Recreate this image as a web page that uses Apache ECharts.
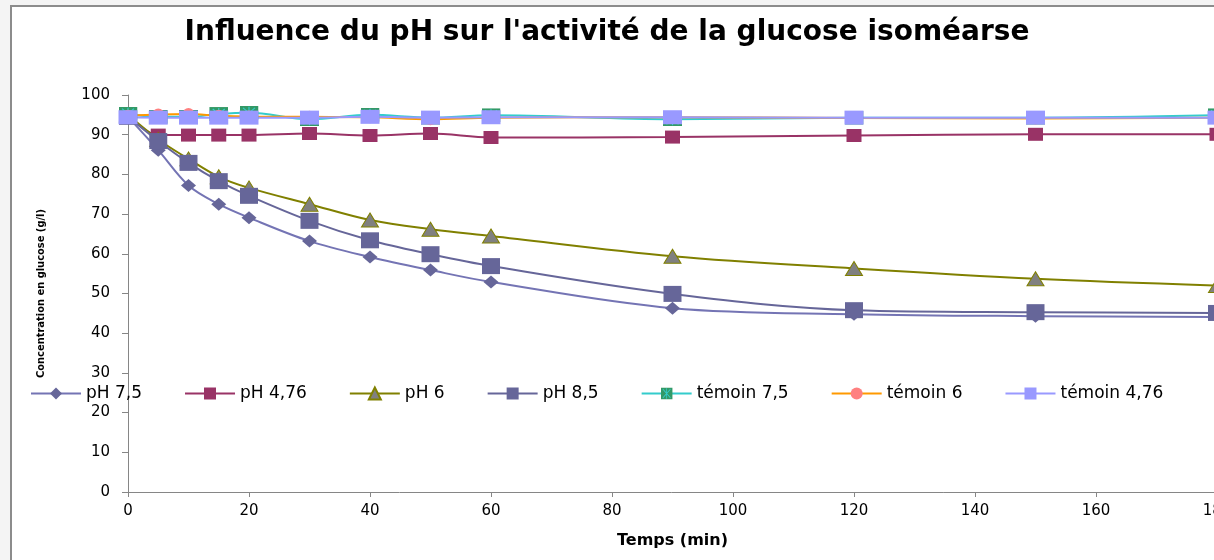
<!DOCTYPE html>
<html>
<head>
<meta charset="utf-8">
<script src="https://cdn.jsdelivr.net/npm/echarts@6/dist/echarts.min.js"></script>
<style>
  html, body { margin: 0; padding: 0; background: #f4f4f4; }
  #chart { width: 1214px; height: 560px; }
</style>
</head>
<body>
<div id="chart"></div>
<script>
// Sampling times (min)
const times = [0, 5, 10, 15, 20, 30, 40, 50, 60, 90, 120, 150, 180];

// Glucose concentration (g/l) for each condition
const ph75   = [94.5, 86.1, 77.2, 72.5, 69.1, 63.2, 59.2, 55.9, 52.9, 46.3, 44.8, 44.3, 44.1];
const ph476  = [95.0, 89.9, 89.9, 89.9, 89.9, 90.3, 89.8, 90.3, 89.3, 89.4, 89.8, 90.1, 90.1];
const ph6    = [95.0, 88.8, 83.9, 79.4, 76.6, 72.5, 68.5, 66.2, 64.5, 59.4, 56.3, 53.7, 52.0];
const ph85   = [94.5, 88.4, 82.9, 78.3, 74.6, 68.3, 63.4, 59.9, 56.9, 49.9, 45.8, 45.3, 45.1];
const tem75  = [95.3, 94.5, 94.5, 95.2, 95.5, 93.9, 95.0, 94.3, 94.9, 93.9, 94.3, 94.3, 94.9];
const tem6   = [94.8, 95.1, 95.2, 94.8, 94.6, 94.5, 94.4, 93.9, 94.3, 94.4, 94.2, 94.1, 94.3];
const tem476 = [94.4, 94.3, 94.3, 94.3, 94.3, 94.3, 94.5, 94.3, 94.4, 94.4, 94.3, 94.3, 94.3];

const seriesNames = ['pH 7,5', 'pH 4,76', 'pH 6', 'pH 8,5', 'témoin 7,5', 'témoin 6', 'témoin 4,76'];

const title = "Influence du pH sur l'activité de la glucose isoméarse";
const xName = 'Temps (min)';
const yName = 'Concentration en glucose (g/l)';

// green square with a cyan asterisk
const starSquare = 'image://data:image/svg+xml;utf8,' + encodeURIComponent(
  '<svg xmlns="http://www.w3.org/2000/svg" width="19" height="14" viewBox="0 0 19 14">' +
  '<rect x="0" y="0" width="19" height="14" fill="#339966"/>' +
  '<path d="M9.5 1 V13 M3.5 2 L15.5 12 M15.5 2 L3.5 12" stroke="#33CCCC" stroke-width="1.2"/>' +
  '</svg>');

function pairs(values) {
  return times.map((t, i) => [t, values[i]]);
}

function lineSeries(name, values, lineColor, symbol, size, fill, border) {
  return {
    name: name,
    type: 'line',
    data: pairs(values),
    smooth: 0.35,
    symbol: symbol,
    symbolSize: size,
    showAllSymbol: true,
    lineStyle: { color: lineColor, width: 2 },
    itemStyle: {
      color: fill,
      borderColor: border || fill,
      borderWidth: border ? 1 : 0
    },
    emphasis: { disabled: true }
  };
}

const chart = echarts.init(document.getElementById('chart'), null, { renderer: 'canvas' });

chart.setOption({
  animation: false,
  backgroundColor: '#f4f4f4',
  graphic: [{
    type: 'rect',
    z: -10,
    silent: true,
    shape: { x: 11, y: 6, width: 1300, height: 600 },
    style: { fill: '#ffffff', stroke: '#8c8c8c', lineWidth: 2 }
  }],
  title: {
    text: title,
    left: 'center',
    top: 14,
    textStyle: {
      fontFamily: 'DejaVu Sans',
      fontWeight: 'bold',
      fontSize: 28,
      color: '#000'
    }
  },
  legend: {
    data: seriesNames,
    left: 30,
    top: 385,
    padding: 0,
    itemWidth: 50,
    itemHeight: 15,
    itemGap: 42,
    textStyle: { fontFamily: 'DejaVu Sans', fontSize: 17, color: '#000' }
  },
  grid: {
    left: 128, top: 95, width: 1089, height: 397,
    containLabel: false,
    outerBoundsMode: 'none'
  },
  xAxis: {
    type: 'value',
    min: 0,
    max: 180,
    interval: 20,
    name: xName,
    nameLocation: 'middle',
    nameGap: 41,
    nameTextStyle: { fontFamily: 'DejaVu Sans', fontWeight: 'bold', fontSize: 16, color: '#000' },
    axisLine: { lineStyle: { color: '#868686', width: 1 } },
    axisTick: { length: 5, lineStyle: { color: '#868686' } },
    axisLabel: { margin: 12, fontFamily: 'DejaVu Sans', fontSize: 15, color: '#000' },
    splitLine: { show: false }
  },
  yAxis: {
    type: 'value',
    min: 0,
    max: 100,
    interval: 10,
    name: yName,
    nameLocation: 'middle',
    nameGap: 81,
    nameRotate: 90,
    nameTextStyle: {
      fontFamily: "'DejaVu Sans Condensed', 'Liberation Sans Narrow', sans-serif",
      fontWeight: 'bold',
      fontSize: 11,
      color: '#000'
    },
    axisLine: { show: true, lineStyle: { color: '#868686', width: 1 } },
    axisTick: { show: true, length: 6, lineStyle: { color: '#868686' } },
    axisLabel: { margin: 18, fontFamily: 'DejaVu Sans', fontSize: 15, color: '#000' },
    splitLine: { show: false }
  },
  series: [
    lineSeries(seriesNames[0], ph75, '#7474B4', 'diamond', [15, 13], '#666699'),
    lineSeries(seriesNames[1], ph476, '#993366', 'rect', [15, 13], '#993366'),
    lineSeries(seriesNames[2], ph6, '#808000', 'triangle', [17, 14], '#808080', '#808000'),
    lineSeries(seriesNames[3], ph85, '#666699', 'rect', [18, 16], '#666699'),
    lineSeries(seriesNames[4], tem75, '#33CCCC', starSquare, [19, 14], '#339966'),
    lineSeries(seriesNames[5], tem6, '#FF9900', 'circle', 12, '#FF8080'),
    lineSeries(seriesNames[6], tem476, '#9999FF', 'rect', [19, 14], '#9999FF')
  ]
});
</script>
</body>
</html>
